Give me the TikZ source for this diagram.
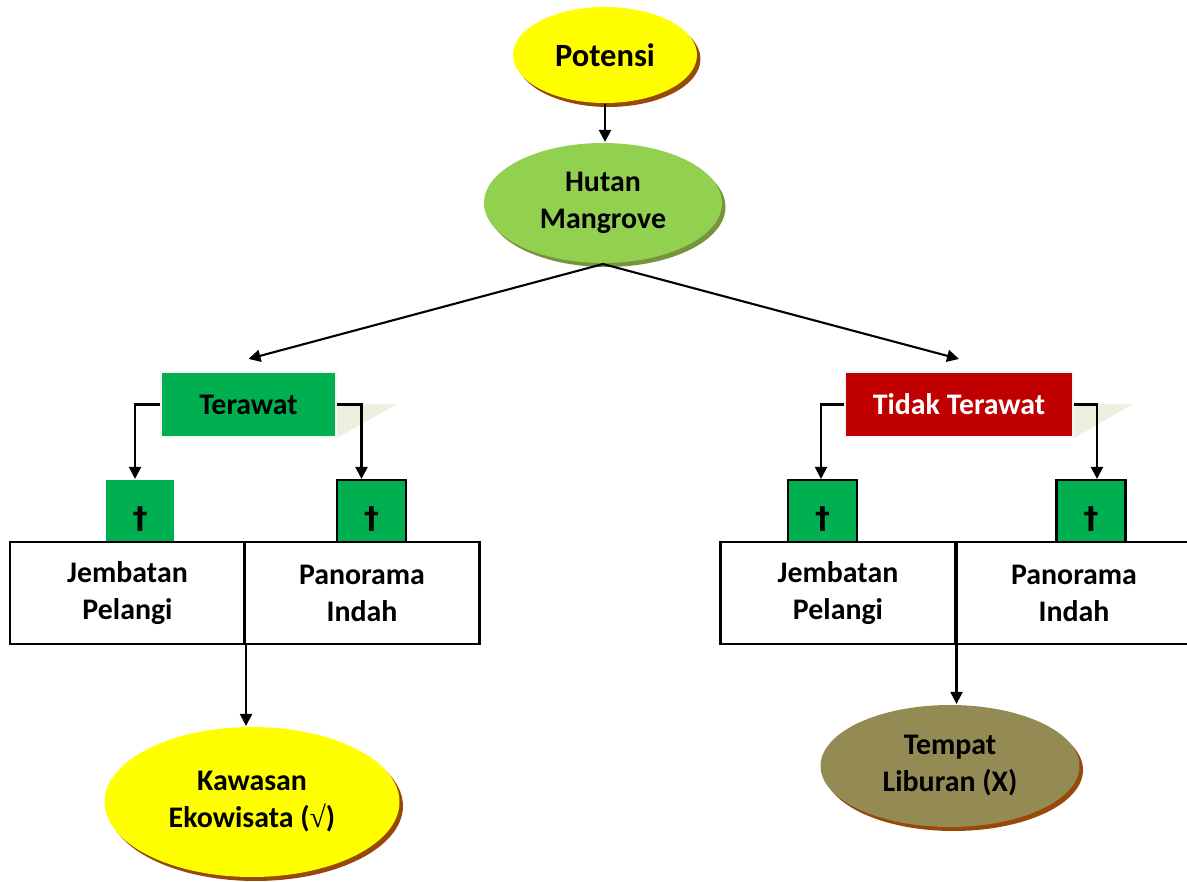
\documentclass[tikz,border=0pt]{standalone}
\usepackage{fontspec}
\setmainfont{Carlito}
\newfontfamily\rootfont{Liberation Serif}
\newfontfamily\crossfont{DejaVu Sans}
\usetikzlibrary{calc}
\usetikzlibrary{arrows.meta, shapes, shadows}
\definecolor{potyellow}{HTML}{FFFF00}
\definecolor{shbrown}{HTML}{984807}
\definecolor{hutgreen}{HTML}{92D050}
\definecolor{hutshadow}{HTML}{77933C}
\definecolor{boxgreen}{HTML}{00B050}
\definecolor{boxred}{HTML}{C00000}
\definecolor{olive}{HTML}{948A54}
\definecolor{flapfill}{HTML}{EBF1DE}
\tikzset{
	-{Triangle[length=0.24cm, width=0.24cm]},
	every path/.style={line width=1.2pt},
	every node/.style={align=center, font=\fontsize{17}{21}\selectfont\bfseries},
	blob/.style={ellipse, inner sep=0pt, general shadow={shadow xshift=0.07cm, shadow yshift=-0.08cm, fill=#1}},
	kind/.style={rectangle, minimum width=#1, minimum height=1.3cm, draw=gray!8, line width=1.2pt},
	cross/.style={rectangle, fill=boxgreen, draw, line width=1.2pt, minimum width=1.38cm, minimum height=1.24cm, inner sep=0pt, node contents={\smash{\raisebox{-0.34cm}{\crossfont\bfseries †}}}},
	place/.style={rectangle, draw, fill=white, line width=1.2pt, minimum width=4.7cm, minimum height=2.04cm},
	flap/.style={fill=flapfill, draw=none}
}

\begin{document}
\begin{tikzpicture}[x=0.02cm, y=-0.02cm]
	\useasboundingbox (0,0) rectangle (1187,882);
	
	% Potential
	\node (pot) at (605,55) [blob=shbrown, fill=potyellow, minimum width=3.68cm, minimum height=1.92cm, font=\fontsize{18.5}{22}\selectfont\bfseries] {Potensi};
	\node (hut) at (603,203) [blob=hutshadow, fill=hutgreen, minimum width=4.76cm, minimum height=2.4cm] {Hutan\\Mangrove};
	
	% Condition
	\node (ter) at (248.5,404.5) [kind=3.5cm, fill=boxgreen] {Terawat};
	\node (tid) at (959,404.5) [kind=4.56cm, fill=boxred, text=white] {Tidak Terawat};
	\fill[flap] ($(ter.north east)+(0,33)$) -- ++(60,0) -- (ter.south east) -- cycle;
	\fill[flap] ($(tid.north east)+(0,33)$) -- ++(59,0) -- (tid.south east) -- cycle;
	
	\node (c1) at (140,511) [cross, draw=none];
	\node (c2) at (371.5,511) [cross];
	\node (c3) at (822.5,511) [cross];
	\node (c4) at (1091,511) [cross];
	
	\node (jp1) at (127.5,593) [place] {Jembatan\\Pelangi};
	\node (pi1) at (362,593) [place] {Panorama\\Indah};
	\node (jp2) at (838,593) [place] {Jembatan\\Pelangi};
	\node (pi2) at (1074,593) [place] {Panorama\\Indah};
	
	% Result
	\node (kaw) at (252,802) [blob=shbrown, fill=potyellow, minimum width=5.9cm, minimum height=3cm] {Kawasan\\Ekowisata ({\rootfont\mdseries √})};
	\node (tem) at (950,766) [blob=shbrown, fill=olive, minimum width=5.18cm, minimum height=2.44cm] {Tempat\\Liburan (X)};
	
	\draw (pot.south) -- (pot.south |- hut.north);
	\draw (hut.south) -- ([yshift=0.24cm]ter.north);
	\draw (hut.south) -- ([yshift=0.24cm]tid.north);
	\draw (ter.west) -| ([xshift=-0.1cm]c1.north);
	\draw (ter.east) -| ([xshift=-0.2cm]c2.north);
	\draw (tid.west) -| ([xshift=-0.03cm]c3.north);
	\draw (tid.east) -| ([xshift=0.12cm]c4.north);
	\draw (jp1.south east) -- (jp1.south east |- kaw.north);
	\draw (jp2.south east) -- (jp2.south east |- tem.north);
	
\end{tikzpicture}
\end{document}
